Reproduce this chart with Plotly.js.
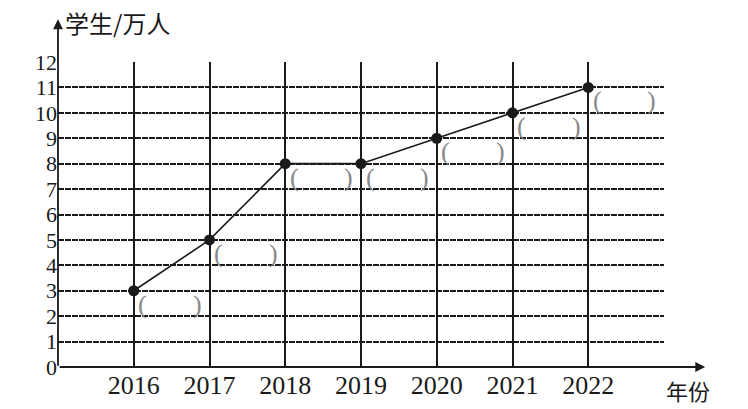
<!DOCTYPE html>
<html>
<head>
<meta charset="utf-8">
<script src="https://cdn.plot.ly/plotly-3.0.1.min.js"></script>
<style>html,body{margin:0;padding:0;background:#fff;}#chart{width:748px;height:409px;}</style>
</head>
<body>
<div id="chart"></div>
<script>
var years = [2016, 2017, 2018, 2019, 2020, 2021, 2022];
var students = [3, 5, 8, 8, 9, 10, 11];
var yearLabels = ['2016', '2017', '2018', '2019', '2020', '2021', '2022'];
var yTicks = [0,1,2,3,4,5,6,7,8,9,10,11,12];
var yTitle = '学生/万人';
var xTitle = '年份';

var serif = 'Liberation Serif, Times New Roman, serif';
var cjk = 'Noto Sans CJK SC, sans-serif';
var ink = '#1a1a1a';

var xGrid = [2015].concat(years).concat([2023]);
var xGridText = [''].concat(yearLabels).concat(['']);

var trace = {
  x: years, y: students, type: 'scatter', mode: 'lines+markers',
  line: {color: ink, width: 1.6},
  marker: {color: ink, size: 11},
  hoverinfo: 'skip', cliponaxis: false
};

var annotations = [];
// parentheses placeholders below-right of each point
for (var i = 0; i < years.length; i++) {
  annotations.push({
    x: years[i] + 0.12, y: students[i] - 0.53, xref: 'x', yref: 'y',
    text: '(', showarrow: false,
    font: {family: serif, size: 26, color: '#8a8a8a'}
  });
  annotations.push({
    x: years[i] + 0.84, y: students[i] - 0.53, xref: 'x', yref: 'y',
    text: ')', showarrow: false,
    font: {family: serif, size: 26, color: '#8a8a8a'}
  });
}
// axis arrows
annotations.push({x: 0, y: 1.14, xref: 'paper', yref: 'paper', ax: 0, ay: 348,
  axref: 'pixel', ayref: 'pixel', text: '', showarrow: true, arrowhead: 2,
  arrowsize: 1.1, arrowwidth: 1.8, arrowcolor: ink});
annotations.push({x: 1.068, y: 0, xref: 'paper', yref: 'paper', ax: -647, ay: 0,
  axref: 'pixel', ayref: 'pixel', text: '', showarrow: true, arrowhead: 2,
  arrowsize: 1.1, arrowwidth: 1.8, arrowcolor: ink});
// axis titles
annotations.push({x: 0.008, y: 1.13, xref: 'paper', yref: 'paper', xanchor: 'left', yanchor: 'middle',
  text: yTitle, showarrow: false, font: {family: cjk, size: 24, color: ink}});
annotations.push({x: 1.0, y: -0.075, xref: 'paper', yref: 'paper', xanchor: 'left', yanchor: 'middle',
  text: xTitle, showarrow: false, font: {family: cjk, size: 22, color: ink}});

var layout = {
  width: 748, height: 409,
  margin: {l: 58, r: 84, t: 62, b: 42, pad: 0},
  paper_bgcolor: '#fff', plot_bgcolor: '#fff',
  showlegend: false,
  xaxis: {
    range: [2015, 2023], tickmode: 'array', tickvals: xGrid, ticktext: xGridText,
    showgrid: true, gridcolor: ink, gridwidth: 2, zeroline: false, showline: false,
    ticks: '', tickfont: {family: serif, size: 26, color: ink}, fixedrange: true
  },
  yaxis: {
    range: [0, 12], tickmode: 'array', tickvals: yTicks,
    showgrid: true, gridcolor: ink, gridwidth: 2, griddash: '6px,1px',
    zeroline: false, showline: false,
    ticks: '', tickfont: {family: serif, size: 22, color: ink}, fixedrange: true
  },
  annotations: annotations
};

Plotly.newPlot('chart', [trace], layout, {displayModeBar: false, staticPlot: true});
</script>
</body>
</html>
